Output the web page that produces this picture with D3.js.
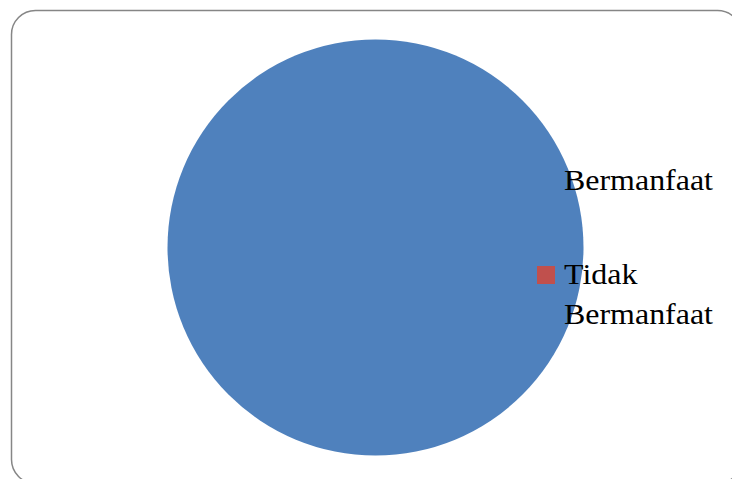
<!DOCTYPE html>
<html>
<head>
<meta charset="utf-8">
<script src="https://cdn.jsdelivr.net/npm/d3@7"></script>
<style>
  html, body { margin: 0; padding: 0; background: #fff; }
  svg { display: block; }
</style>
</head>
<body>
<div id="vis"></div>
<script>
// chart data
var categories = ["Bermanfaat", "Tidak Bermanfaat"];
var values = [100, 0];
var colors = ["#4F81BD", "#C0504D"];
// legend labels as wrapped lines
var legendLines = [["Bermanfaat"], ["Tidak", "Bermanfaat"]];

var width = 732,
    height = 479;

var svg = d3.select("#vis").append("svg")
    .attr("width", width)
    .attr("height", height);

// rounded chart border
svg.append("rect")
    .attr("x", 11.5)
    .attr("y", 10.5)
    .attr("width", 730)
    .attr("height", 473)
    .attr("rx", 24)
    .attr("ry", 24)
    .attr("fill", "#fff")
    .attr("stroke", "#868686")
    .attr("stroke-width", 1.5);

var cx = 375.5, cy = 247.5, radius = 208;

var pie = d3.pie().sort(null).value(function(d) { return d; });
var arc = d3.arc().innerRadius(0).outerRadius(radius);

var color = d3.scaleOrdinal().domain(categories).range(colors);

var g = svg.append("g")
    .attr("transform", "translate(" + cx + "," + cy + ")");

g.selectAll(".slice")
    .data(pie(values))
    .enter().append("path")
    .attr("class", "slice")
    .attr("d", arc)
    .attr("fill", function(d, i) { return color(categories[i]); });

// legend
var legendY = d3.scalePoint().domain(categories).range([181, 275]);
var lineHeight = 40;

var legend = svg.selectAll(".legend")
    .data(categories)
    .enter().append("g")
    .attr("class", "legend")
    .attr("transform", function(d) { return "translate(537," + legendY(d) + ")"; });

legend.append("rect")
    .attr("x", 0)
    .attr("y", -9)
    .attr("width", 18)
    .attr("height", 18)
    .attr("fill", function(d) { return color(d); });

// serif face is a bit narrower than the original, so stretch it slightly
legend.append("text")
    .attr("transform", "translate(27,9) scale(1.065,1)")
    .attr("font-family", "'Liberation Serif', 'DejaVu Serif', serif")
    .attr("font-size", "30px")
    .attr("fill", "#000")
    .selectAll("tspan")
    .data(function(d, i) { return legendLines[i]; })
    .enter().append("tspan")
    .attr("x", 0)
    .attr("dy", function(d, i) { return i === 0 ? 0 : lineHeight; })
    .text(function(d) { return d; });
</script>
</body>
</html>
